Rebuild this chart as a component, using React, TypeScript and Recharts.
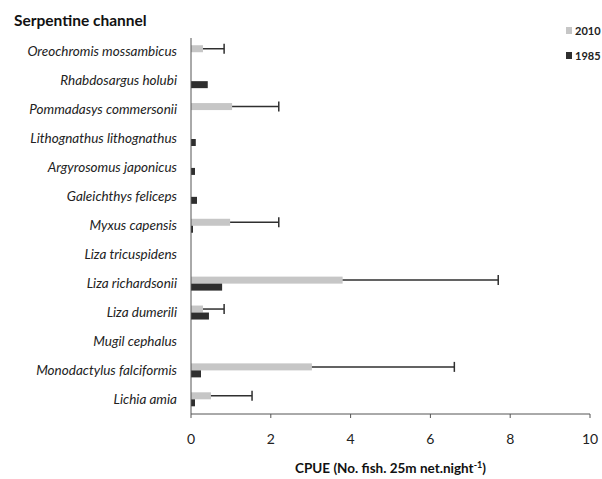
import { BarChart, Bar, XAxis, YAxis, Label } from 'recharts';

const species = [
  'Oreochromis mossambicus',
  'Rhabdosargus holubi',
  'Pommadasys commersonii',
  'Lithognathus lithognathus',
  'Argyrosomus japonicus',
  'Galeichthys feliceps',
  'Myxus capensis',
  'Liza tricuspidens',
  'Liza richardsonii',
  'Liza dumerili',
  'Mugil cephalus',
  'Monodactylus falciformis',
  'Lichia amia',
];

// mean CPUE per year
const cpue2010 = [0.3, 0, 1.03, 0, 0, 0, 0.98, 0, 3.8, 0.3, 0, 3.03, 0.5];
const cpue1985 = [0, 0.42, 0, 0.12, 0.1, 0.15, 0.05, 0, 0.78, 0.45, 0, 0.25, 0.1];
// upper error (SE) for 2010
const err2010 = [0.53, 0, 1.17, 0, 0, 0, 1.22, 0, 3.9, 0.53, 0, 3.57, 1.03];

const xTicks = [0, 2, 4, 6, 8, 10];
// category boundaries, for the small ticks on the species axis
const edgeTicks = species.map((_, i) => i).concat(species.length);

const FONT = 'Lato, "Liberation Sans", sans-serif';
const LIGHT = '#c6c6c6';
const DARK = '#2f2f2f';

// drop the default body margin so the chart fills the window
if (typeof document !== 'undefined') {
  document.body.style.margin = '0';
  document.body.style.overflow = 'hidden';
}

const data = species.map((name, i) => ({
  name,
  y2010: cpue2010[i],
  y1985: cpue1985[i],
  err: err2010[i],
}));

// light bar with a one-sided error whisker, scaled from the bar's own width
function BarWithError(props: any) {
  const { x, y, width, height, payload } = props;
  const val = payload.y2010;
  const err = payload.err;
  const midY = y + height / 2;
  let whisker = null;
  if (val > 0 && err > 0) {
    const end = x + (width * (val + err)) / val;
    whisker = (
      <g stroke={DARK} strokeWidth={1.5}>
        <line x1={x + width} y1={midY} x2={end} y2={midY} />
        <line x1={end} y1={midY - 5} x2={end} y2={midY + 5} />
      </g>
    );
  }
  return (
    <g>
      {width > 0 && <rect x={x} y={y} width={width} height={height} fill={LIGHT} />}
      {whisker}
    </g>
  );
}

function SpeciesTick(props: any) {
  const { x, y, payload } = props;
  return (
    <text
      x={x - 6}
      y={y}
      dy={4}
      textAnchor="end"
      fontStyle="italic"
      fontSize={13.5}
      fontFamily={FONT}
      fill="#222"
    >
      {payload.value}
    </text>
  );
}

function AxisTitle(props: any) {
  const { viewBox } = props;
  const cx = viewBox.x + viewBox.width / 2;
  const cy = viewBox.y + viewBox.height + 29;
  return (
    <text
      x={cx}
      y={cy}
      textAnchor="middle"
      fontWeight="bold"
      fontSize={13.5}
      fontFamily={FONT}
      fill="#111"
    >
      CPUE (No. fish. 25m net.night
      <tspan dy={-5} fontSize={9}>-1</tspan>
      <tspan dy={5}>)</tspan>
    </text>
  );
}

export default function App() {
  return (
    <div style={{ position: 'relative', width: 602, height: 479, background: '#fff' }}>
      <div
        style={{
          position: 'absolute',
          left: 14,
          top: 11,
          fontFamily: FONT,
          fontWeight: 'bold',
          fontSize: 15.5,
          color: '#111',
        }}
      >
        Serpentine channel
      </div>
      <div
        style={{
          position: 'absolute',
          left: 566,
          top: 18,
          fontFamily: FONT,
          fontWeight: 'bold',
          fontSize: 11,
          color: '#222',
          lineHeight: '25px',
          whiteSpace: 'nowrap',
        }}
      >
        {[
          { label: '2010', color: LIGHT },
          { label: '1985', color: DARK },
        ].map((item) => (
          <div key={item.label} style={{ display: 'flex', alignItems: 'center' }}>
            <span
              style={{
                display: 'inline-block',
                width: 6,
                height: 7,
                background: item.color,
                marginRight: 3,
              }}
            />
            {item.label}
          </div>
        ))}
      </div>
      <BarChart
        width={602}
        height={479}
        data={data}
        layout="vertical"
        margin={{ top: 38, right: 12, left: 0, bottom: 35 }}
        barCategoryGap="25%"
        barGap={0}
      >
        <XAxis
          type="number"
          domain={[0, 10]}
          ticks={xTicks}
          tick={{ fontSize: 14, fill: '#222', fontFamily: FONT }}
          axisLine={{ stroke: '#555' }}
          tickLine={{ stroke: '#555' }}
          tickSize={4}
          tickMargin={16}
          height={30}
        >
          <Label content={<AxisTitle />} />
        </XAxis>
        <YAxis
          yAxisId="edge"
          type="number"
          domain={[0, species.length]}
          ticks={edgeTicks}
          width={0}
          tick={false}
          tickSize={4}
          tickLine={{ stroke: '#555' }}
          axisLine={false}
        />
        <YAxis
          yAxisId="cat"
          type="category"
          dataKey="name"
          width={191}
          axisLine={{ stroke: '#555' }}
          tickLine={false}
          tick={<SpeciesTick />}
          interval={0}
        />
        <Bar yAxisId="cat" dataKey="y2010" name="2010" fill={LIGHT} shape={<BarWithError />} isAnimationActive={false} />
        <Bar yAxisId="cat" dataKey="y1985" name="1985" fill={DARK} isAnimationActive={false} />
      </BarChart>
    </div>
  );
}
